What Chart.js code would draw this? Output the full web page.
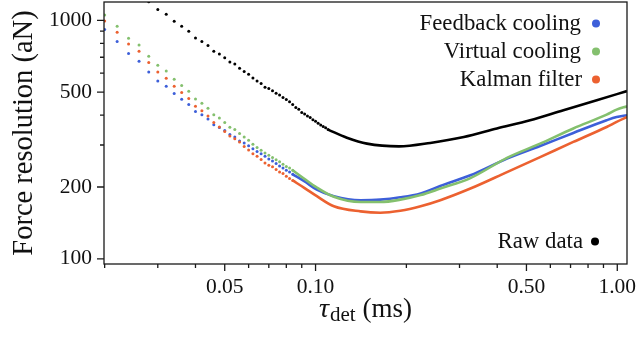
<!DOCTYPE html>
<html>
<head>
<meta charset="utf-8">
<script src="https://cdn.jsdelivr.net/npm/chart.js@4.4.1/dist/chart.umd.min.js"></script>
<style>
  html, body { margin: 0; padding: 0; background: #ffffff; }
  #wrap { position: relative; width: 637px; height: 338px; }
</style>
</head>
<body>
<div id="wrap"><canvas id="c" width="637" height="338"></canvas></div>
<script>
// Detection time grid of the resolved points (ms), steps of 2 µs
const tauDots = [0.020, 0.022, 0.024, 0.026, 0.028, 0.030, 0.032, 0.034, 0.036, 0.038,
                 0.040, 0.042, 0.044, 0.046, 0.048, 0.050, 0.052, 0.054, 0.056, 0.058,
                 0.060, 0.062, 0.064, 0.066, 0.068, 0.070, 0.072, 0.074, 0.076, 0.078,
                 0.080, 0.082, 0.084, 0.086, 0.088, 0.090, 0.092, 0.094, 0.096, 0.098,
                 0.100, 0.102, 0.104, 0.106, 0.108, 0.110];

// Force resolution (aN) at the short detection times
const feedbackDots = [914, 814, 725, 673, 607, 557, 529, 493, 467, 444,
                      415, 402, 386, 365, 355, 345, 332, 324, 312, 306,
                      298, 289, 282, 276, 269, 262, 257, 251, 245, 240,
                      235, 231, 226];
const virtualDots  = [1052, 944, 841, 788, 707, 648, 613, 566, 533, 504,
                      468, 449, 428, 402, 389, 373, 356, 348, 335, 324,
                      314, 302, 293, 285, 278, 272, 266, 260, 255, 249,
                      244, 240, 235];
const kalmanDots   = [993, 891, 796, 741, 665, 607, 571, 529, 498, 470,
                      436, 418, 397, 373, 357, 342, 327, 319, 309, 296,
                      286, 276, 269, 261, 252, 247, 243, 237, 231, 228,
                      222, 217, 213];
// Raw data starts at the 14th grid point (28 µs)
const rawDots = [1195, 1109, 1060, 990, 944, 899, 843, 814, 783, 741,
                 722, 696, 669, 656, 629, 610, 594, 573, 557, 543,
                 524, 517, 507, 494, 486, 474, 465, 455, 443, 431,
                 424, 411, 405, 397, 391, 383, 377, 370, 364, 359,
                 354, 348];
const rawStart = 4;

// Long detection times, where the points merge into a continuous trace
const tauCurve      = [0.084, 0.092, 0.101, 0.115, 0.141, 0.164, 0.191, 0.223, 0.259, 0.326, 0.431, 0.555, 0.715, 0.922, 0.995, 1.077];
const feedbackCurve = [226, 211, 195, 183, 176, 177, 181, 188, 202, 224, 263, 297, 337, 381, 393, 400];
const virtualCurve  = [235, 216, 199, 182, 173, 173, 177, 185, 197, 218, 265, 304, 352, 402, 422, 436];
const kalmanCurve   = [213, 198, 183, 166, 158, 156, 159, 166, 176, 197, 231, 267, 309, 357, 375, 393];

const tauRawCurve = [0.110, 0.127, 0.148, 0.189, 0.240, 0.310, 0.399, 0.514, 0.663, 0.855, 1.077];
const rawCurve    = [348, 322, 304, 296, 306, 324, 352, 381, 420, 462, 505];

// Axis ticks
const xTicks = [0.02, 0.03, 0.04, 0.05, 0.06, 0.07, 0.08, 0.09, 0.1, 0.2, 0.3, 0.4, 0.5, 0.6, 0.7, 0.8, 0.9, 1.0];
const xTickLabels = { 0.05: '0.05', 0.1: '0.10', 0.5: '0.50', 1: '1.00' };
const yTicks = [100, 200, 300, 400, 500, 600, 700, 800, 900, 1000];
const yTickLabels = { 100: '100', 200: '200', 500: '500', 1000: '1000' };

const seriesNames = ['Feedback cooling', 'Virtual cooling', 'Kalman filter'];
const rawName = 'Raw data';

const BLUE = '#3d5fd9';
const GREEN = '#84c06e';
const ORANGE = '#ec6130';
const BLACK = '#000000';
const INK = '#111111';
const SERIF = '"Liberation Serif", "DejaVu Serif", serif';

function pairs(xs, ys, offset) {
  const out = [];
  ys.forEach((v, i) => { if (v != null) out.push({ x: xs[i + (offset || 0)], y: v }); });
  return out;
}

function dotSet(label, xs, ys, color, order, offset) {
  return {
    label, data: pairs(xs, ys, offset), showLine: false, order,
    pointRadius: 1.5, pointHoverRadius: 1.5, pointBorderWidth: 0,
    pointBackgroundColor: color, borderColor: color, backgroundColor: color
  };
}
function curveSet(label, xs, ys, color, order) {
  return {
    label, data: pairs(xs, ys), showLine: true, order,
    pointRadius: 0, pointHoverRadius: 0, borderWidth: 2.6,
    borderColor: color, backgroundColor: color,
    tension: 0.4, cubicInterpolationMode: 'monotone', fill: false
  };
}

// Tick marks (long for labelled, short for the rest), axis frame
const frameAndTicks = {
  id: 'frameAndTicks',
  afterDatasetsDraw(chart) {
    const { ctx, chartArea: a, scales: { x, y } } = chart;
    ctx.save();
    ctx.strokeStyle = '#1a1a1a';
    ctx.lineWidth = 1.3;
    ctx.beginPath();
    x.ticks.forEach(t => {
      const px = x.getPixelForValue(t.value);
      const len = xTickLabels[t.value] ? 7 : 4;
      ctx.moveTo(px, a.bottom); ctx.lineTo(px, a.bottom + len);
    });
    y.ticks.forEach(t => {
      const py = y.getPixelForValue(t.value);
      const len = yTickLabels[t.value] ? 7 : 4;
      ctx.moveTo(a.left, py); ctx.lineTo(a.left - len, py);
    });
    ctx.stroke();
    ctx.strokeRect(a.left, a.top, a.right - a.left, a.bottom - a.top);
    ctx.restore();
  },
  afterDraw(chart) {
    const { ctx, chartArea: a } = chart;
    ctx.save();
    ctx.fillStyle = INK;
    ctx.textBaseline = 'alphabetic';

    // legend, text right-aligned with the marker after it
    ctx.font = '22.8px ' + SERIF;
    ctx.textAlign = 'right';
    const legendRows = [
      { text: seriesNames[0], color: BLUE, base: 29.5, tx: 581, dx: 596 },
      { text: seriesNames[1], color: GREEN, base: 57.5, tx: 581, dx: 596 },
      { text: seriesNames[2], color: ORANGE, base: 85.5, tx: 582, dx: 596 },
      { text: rawName, color: BLACK, base: 247.5, tx: 583, dx: 595 }
    ];
    legendRows.forEach(r => {
      ctx.fillStyle = INK;
      ctx.fillText(r.text, r.tx, r.base);
      ctx.fillStyle = r.color;
      ctx.beginPath();
      ctx.arc(r.dx, r.base - 6, 4, 0, Math.PI * 2);
      ctx.fill();
    });

    // x axis title: tau with subscript "det", centred under the plot
    ctx.fillStyle = INK;
    ctx.textAlign = 'left';
    const base = 317;
    const fTau = 'italic 28px ' + SERIF, fSub = '21px ' + SERIF, fMain = '27px ' + SERIF;
    ctx.font = fTau; const wTau = ctx.measureText('τ').width;
    ctx.font = fSub; const wSub = ctx.measureText('det').width;
    ctx.font = fMain; const wMain = ctx.measureText('(ms)').width;
    const gap = 7;
    let cx = (a.left + a.right) / 2 - (wTau + 1 + wSub + gap + wMain) / 2;
    ctx.font = fTau; ctx.fillText('τ', cx, base); cx += wTau + 1;
    ctx.font = fSub; ctx.fillText('det', cx, base + 4); cx += wSub + gap;
    ctx.font = fMain; ctx.fillText('(ms)', cx, base);
    ctx.restore();
  }
};

Chart.defaults.color = INK;
Chart.defaults.font.family = SERIF;

new Chart(document.getElementById('c'), {
  type: 'scatter',
  data: {
    datasets: [
      dotSet(rawName, tauDots, rawDots, BLACK, 4, rawStart),
      curveSet(rawName, tauRawCurve, rawCurve, BLACK, 4),
      dotSet(seriesNames[0], tauDots, feedbackDots, BLUE, 3),
      curveSet(seriesNames[0], tauCurve, feedbackCurve, BLUE, 3),
      dotSet(seriesNames[1], tauDots, virtualDots, GREEN, 2),
      curveSet(seriesNames[1], tauCurve, virtualCurve, GREEN, 2),
      dotSet(seriesNames[2], tauDots, kalmanDots, ORANGE, 1),
      curveSet(seriesNames[2], tauCurve, kalmanCurve, ORANGE, 1)
    ]
  },
  options: {
    responsive: false,
    animation: false,
    devicePixelRatio: 1,
    events: [],
    layout: { padding: { top: 2, right: 10, bottom: 0, left: 0 } },
    plugins: { legend: { display: false }, tooltip: { enabled: false } },
    scales: {
      x: {
        type: 'logarithmic',
        min: 0.0199, max: 1.077,
        grid: { display: false, drawTicks: true, tickLength: 7 },
        border: { display: false },
        ticks: {
          autoSkip: false, maxRotation: 0, padding: 3,
          font: { family: SERIF, size: 21.5 }, color: INK,
          callback: v => xTickLabels[v] || ''
        },
        afterBuildTicks: s => { s.ticks = xTicks.map(v => ({ value: v })); },
        afterFit: s => { s.height = 74; s.paddingLeft = 0; s.paddingRight = 0; }
      },
      y: {
        type: 'logarithmic',
        min: 95.1, max: 1193,
        grid: { display: false, drawTicks: true, tickLength: 7 },
        border: { display: false },
        title: {
          display: true, text: 'Force resolution (aN)', color: INK,
          font: { family: SERIF, size: 28.5 }, padding: { top: 7, bottom: 0 }
        },
        ticks: {
          autoSkip: false, padding: 5,
          font: { family: SERIF, size: 21.5 }, color: INK,
          callback: v => yTickLabels[v] || ''
        },
        afterBuildTicks: s => { s.ticks = yTicks.map(v => ({ value: v })); },
        afterFit: s => { s.width = 104; s.paddingTop = 0; s.paddingBottom = 0; }
      }
    }
  },
  plugins: [frameAndTicks]
});
</script>
</body>
</html>
